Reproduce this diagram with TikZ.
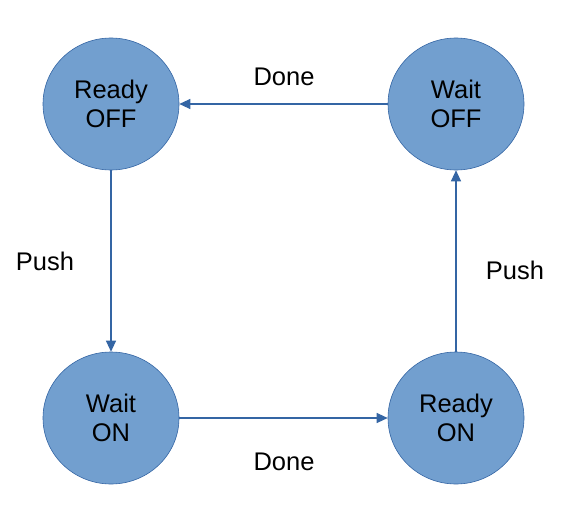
\documentclass[tikz,border=0pt]{standalone}
\usepackage{fontspec}
\setmainfont{Liberation Sans}
\usetikzlibrary{shapes.geometric,arrows.meta}
\definecolor{statefill}{HTML}{729FCF}
\definecolor{stateline}{HTML}{3465A4}
\begin{document}
\begin{tikzpicture}[x=1pt,y=-1pt]
        \tikzstyle{every node}=[font=\fontsize{25.5}{29}\selectfont]
        \tikzstyle{state}=[ellipse,draw=stateline,fill=statefill,line width=0.6pt,minimum width=136pt,minimum height=132pt,inner sep=0pt,align=center]
        \tikzstyle{trans}=[draw=stateline,line width=1.1pt,-{Triangle[length=11pt,width=10pt]}]
        \useasboundingbox (0,0) rectangle (564,505);
        \node[state] (readyoff) at (111,104) {Ready\\OFF};
        \node[state] (waitoff) at (456,104) {Wait\\OFF};
        \node[state] (waiton) at (111,418) {Wait\\ON};
        \node[state] (readyon) at (456,418) {Ready\\ON};
        \draw[trans] (waitoff) -- (readyoff);
        \draw[trans] (readyoff) -- (waiton);
        \draw[trans] (waiton) -- (readyon);
        \draw[trans] (readyon) -- (waitoff);
        \node (done1) at (284,77) {Done};
        \node (push1) at (45,261) {Push};
        \node (done2) at (284,462) {Done};
        \node (push2) at (515,270) {Push};
\end{tikzpicture}
\end{document}
